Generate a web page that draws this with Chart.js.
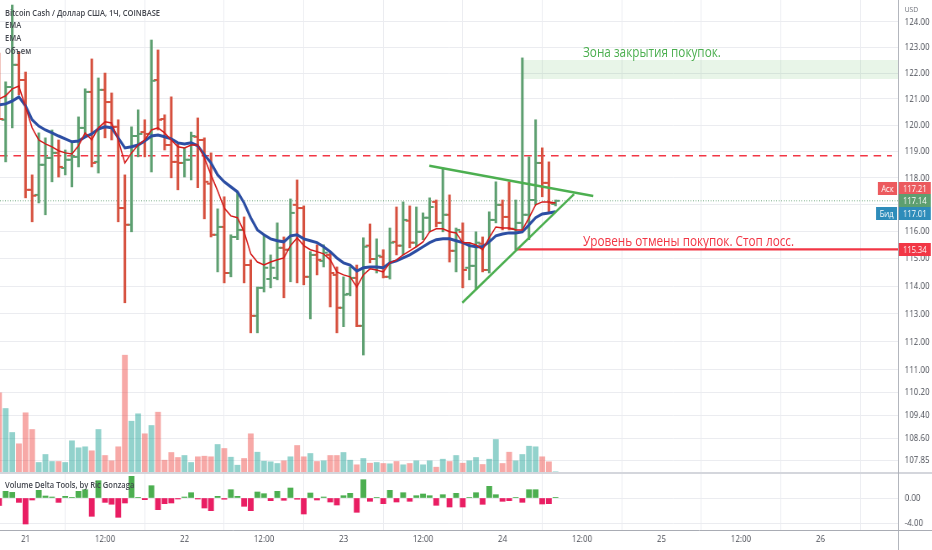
<!DOCTYPE html>
<html>
<head>
<meta charset="utf-8">
<script src="https://cdn.jsdelivr.net/npm/chart.js@4.4.1/dist/chart.umd.min.js"></script>
<style>
  html, body { margin: 0; padding: 0; background: #fff; }
  #wrap { position: relative; width: 932px; height: 550px; overflow: hidden; }
  /* the reference screenshot is horizontally squeezed, so draw wide and squeeze */
  #squeeze { position: absolute; left: 0; top: 0; width: 1110px; height: 550px; transform: scaleX(0.84); transform-origin: 0 0; }
  canvas { display: block; }
  .txt { position: absolute; white-space: nowrap; font-family: "Open Sans", sans-serif; }
  .legend { left: 6px; top: 6.5px; font-size: 9px; line-height: 12.8px; font-weight: 600; color: #44474f; }
  .note { font-size: 14px; line-height: 19px; }
</style>
</head>
<body>
<div id="wrap">
  <div id="squeeze">
    <canvas id="chart" width="1110" height="550"></canvas>
    <div class="txt legend">Bitcoin Cash / Доллар США, 1Ч, COINBASE<br>EMA<br>EMA<br>Объем</div>
    <div class="txt legend" style="top:479px">Volume Delta Tools, by Ric Gonzaga</div>
    <div class="txt" style="left:1077px;top:4px;font-size:8px;line-height:10px;color:#6d7079">USD</div>
    <div class="txt note" style="left:694px;top:41.7px;color:#4caf50">Зона закрытия покупок.</div>
    <div class="txt note" style="left:694px;top:230.7px;color:#f23645">Уровень отмены покупок. Стоп лосс.</div>
  </div>
</div>
<script>
// hours since 21st 00:00, one bar per hour
const hours = [-4, -3, -2, -1, 0, 1, 2, 3, 4, 5, 6, 7, 8, 9, 10, 11, 12, 13, 14, 15, 16, 17, 18, 19, 20,
  21, 22, 23, 24, 25, 26, 27, 28, 29, 30, 31, 32, 33, 34, 35, 36, 37, 38, 39, 40, 41, 42, 43, 44, 45,
  46, 47, 48, 49, 50, 51, 52, 53, 54, 55, 56, 57, 58, 59, 60, 61, 62, 63, 64, 65, 66, 67, 68, 69, 70,
  71, 72, 73, 74, 75, 76, 77, 78, 79, 80];

const opens = [122.51, 120.20, 121.46, 122.32, 121.73, 117.55, 117.36, 118.49, 118.75, 118.94, 118.37,
  118.68, 118.79, 119.89, 121.27, 118.60, 121.35, 120.88, 119.93, 116.87, 116.25, 119.58, 119.73, 119.66,
  121.73, 120.23, 119.24, 118.60, 118.56, 118.68, 119.55, 119.43, 117.78, 115.88, 116.17, 114.48, 115.80,
  116.06, 114.77, 112.93, 113.94, 114.26, 114.30, 115.40, 115.33, 116.99, 116.87, 114.34, 115.14, 114.92,
  115.14, 114.41, 113.22, 113.72, 114.30, 112.57, 115.48, 114.99, 115.07, 114.34, 115.62, 115.48, 116.40,
  115.59, 115.99, 116.51, 117.10, 116.32, 116.62, 115.29, 115.99, 114.67, 114.74, 115.55, 114.59, 116.43,
  116.99, 116.54, 116.10, 116.32, 116.62, 117.17, 118.56, 117.81, 117.02];

const highs = [122.78, 121.66, 124.67, 122.82, 122.04, 118.11, 119.70, 119.51, 119.81, 119.43, 119.05,
  119.36, 120.31, 121.39, 122.55, 121.81, 122.00, 121.23, 120.20, 118.11, 119.93, 120.58, 120.20, 123.29,
  122.90, 120.39, 121.08, 119.32, 119.13, 119.73, 120.27, 119.51, 118.94, 116.84, 117.29, 115.88, 117.47,
  116.54, 114.96, 113.97, 115.88, 115.14, 116.32, 115.80, 117.21, 117.92, 116.95, 115.26, 115.51, 115.51,
  115.22, 114.70, 114.34, 114.70, 114.77, 115.77, 116.28, 115.73, 115.33, 116.13, 116.91, 117.10, 116.95,
  116.91, 116.69, 117.25, 117.17, 118.37, 117.36, 116.13, 116.32, 115.59, 115.99, 115.80, 116.73, 117.85,
  117.17, 117.85, 117.17, 122.59, 118.79, 120.20, 119.13, 118.60, 117.17];

const lows = [120.20, 118.60, 119.89, 121.16, 117.25, 116.36, 117.06, 116.62, 117.85, 118.03, 118.11,
  117.66, 118.41, 119.55, 118.41, 118.18, 119.51, 119.43, 116.36, 113.40, 115.99, 118.79, 118.79, 118.22,
  119.81, 119.05, 118.00, 117.55, 118.03, 117.92, 117.63, 116.47, 115.80, 114.52, 114.12, 114.34, 115.70,
  114.12, 112.32, 112.32, 113.79, 113.94, 114.23, 113.58, 114.16, 114.12, 114.05, 112.82, 114.41, 114.70,
  113.25, 112.32, 112.54, 113.65, 112.54, 111.53, 114.85, 114.48, 114.30, 114.26, 115.14, 115.14, 115.40,
  115.44, 115.70, 115.99, 116.17, 115.99, 114.88, 114.52, 113.94, 114.23, 113.87, 114.52, 114.48, 116.32,
  116.06, 116.06, 115.33, 116.06, 115.70, 116.99, 117.29, 116.69, 116.95];

const closes = [120.23, 121.46, 122.32, 121.73, 117.55, 117.33, 118.49, 118.75, 118.94, 118.41, 118.68,
  118.79, 119.89, 121.27, 118.56, 121.35, 120.88, 119.93, 116.87, 116.25, 119.58, 119.66, 119.66, 121.70,
  120.20, 119.24, 118.60, 118.56, 118.68, 119.58, 119.43, 117.85, 115.88, 116.17, 114.48, 115.80, 116.06,
  114.77, 112.93, 113.94, 114.67, 114.67, 115.40, 115.33, 116.69, 116.87, 114.34, 115.14, 114.96, 115.22,
  114.48, 113.22, 113.69, 114.30, 112.57, 115.44, 114.99, 115.11, 114.34, 115.59, 115.48, 116.43, 115.59,
  115.99, 116.51, 116.91, 116.32, 116.62, 115.29, 116.06, 114.59, 114.74, 115.59, 114.59, 116.43, 116.99,
  116.54, 116.10, 116.32, 116.62, 117.17, 118.56, 117.81, 117.06, 117.14];

const emaFast = [121.00, 121.12, 121.39, 121.50, 120.69, 119.89, 119.43, 119.28, 119.17, 119.02, 118.94,
  118.90, 119.21, 119.70, 119.43, 119.89, 120.12, 120.08, 119.43, 118.56, 118.94, 119.24, 119.43, 119.81,
  119.89, 119.70, 119.43, 119.17, 119.13, 119.24, 119.24, 118.75, 118.11, 117.51, 116.87, 116.58, 116.51,
  115.99, 115.18, 114.88, 114.77, 114.88, 114.96, 115.03, 115.48, 115.77, 115.48, 115.33, 115.26, 115.18,
  114.96, 114.52, 114.41, 114.34, 113.97, 114.41, 114.63, 114.59, 114.52, 114.85, 114.96, 115.14, 115.29,
  115.44, 115.62, 115.99, 116.10, 116.10, 115.99, 115.95, 115.59, 115.59, 115.51, 115.33, 115.77, 116.17,
  116.13, 116.13, 116.06, 116.06, 116.51, 116.99, 117.10, 117.10, 117.06];

const emaSlow = [120.77, 120.81, 120.92, 121.08, 120.73, 120.20, 119.96, 119.81, 119.70, 119.58, 119.47,
  119.36, 119.39, 119.55, 119.66, 119.85, 119.93, 119.89, 119.51, 119.13, 119.17, 119.24, 119.39, 119.58,
  119.62, 119.55, 119.47, 119.32, 119.28, 119.32, 119.21, 118.87, 118.56, 118.11, 117.85, 117.66, 117.47,
  117.06, 116.51, 116.06, 115.88, 115.73, 115.66, 115.62, 115.84, 115.88, 115.73, 115.66, 115.59, 115.44,
  115.26, 115.03, 114.85, 114.77, 114.55, 114.67, 114.70, 114.70, 114.67, 114.85, 114.92, 115.03, 115.14,
  115.29, 115.44, 115.59, 115.70, 115.73, 115.73, 115.66, 115.59, 115.48, 115.44, 115.44, 115.62, 115.84,
  115.91, 115.95, 115.95, 115.99, 116.25, 116.51, 116.65, 116.69, 116.73];

const volumes = [797, 640, 400, 287, 597, 430, 100, 180, 110, 110, 100, 317, 247, 257, 217, 430, 170, 117,
  257, 1173, 513, 587, 387, 470, 603, 123, 200, 150, 170, 100, 157, 163, 157, 280, 240, 153, 73, 140, 387,
  203, 113, 107, 90, 117, 157, 270, 157, 190, 110, 117, 170, 170, 200, 123, 77, 140, 93, 100, 90, 87, 110,
  77, 90, 117, 77, 117, 53, 133, 110, 170, 93, 117, 150, 80, 133, 330, 90, 203, 117, 180, 263, 257, 157,
  107, 7];

const deltas = [-1.2, 1.07, 0.9, -0.7, -4.16, -0.32, 1.23, 0.32, 0.16, -0.7, 0.27, 0.05, 1.07, 1.33, -2.93,
  2.77, -0.7, -1.0, -3.09, -0.8, 3.47, 0.05, -0.27, 1.97, -1.87, -0.91, -0.8, -0.16, 0.16, 0.85, -0.16,
  -1.6, -2.03, 0.27, -0.2, 1.33, 0.27, -1.33, -2.03, 0.96, 0.69, -0.43, 1.07, -0.37, 1.6, -0.2, -2.56, 0.8,
  -0.32, 0.16, -0.64, -1.12, 0.37, 0.75, -2.29, 2.93, -0.53, 0.1, -0.91, 1.23, -0.64, 0.85, -0.53, 0.37,
  0.64, 0.37, -1.17, 0.53, -1.44, 0.75, -1.44, 0.1, 0.85, -1.01, 1.87, 0.53, -0.53, -0.43, 0.1, -0.69,
  1.33, 1.33, -0.96, -0.91, 0.05];

const timeTicks = [0, 12, 24, 36, 48, 60, 72, 84, 96, 108, 120];
const timeLabels = ["21", "12:00", "22", "12:00", "23", "12:00", "24", "12:00", "25", "12:00", "26"];
const priceTicks = [124, 123, 122, 121, 120, 119, 118, 117, 116, 115, 114, 113, 112, 111, 110.2, 109.4, 108.6, 107.85];
const deltaTicks = [0, -4];

// drawings
const levelHours = [-3.85, 130.8];
const resistancePrice = 118.83;
const priceLineHours = [-3.85, 131.7];
const stopHours = [74, 131.7];
const stopPrice = 115.34;
const zoneHours = [75, 131.7];
const zoneTop = 122.51;
const zoneBottom = 121.77;
const upperTrendHours = [60.95, 85.7];
const upperTrendPrices = [118.45, 117.32];
const lowerTrendHours = [65.93, 82.8];
const lowerTrendPrices = [113.40, 117.39];
const askPrice = 117.21;
const bidPrice = 117.01;

const upColor = "#5d9f70";
const downColor = "#d6503e";
const gridColor = "#ebecf0";
const axisText = "#474a53";

const isUp = closes.map((c, i) => c >= opens[i]);
const barColors = isUp.map((u) => (u ? upColor : downColor));
const volColors = isUp.map((u) => (u ? "rgba(38,166,154,0.5)" : "rgba(239,83,80,0.5)"));
const deltaColors = deltas.map((d) => (d >= 0 ? "#4caf50" : "#e91e63"));

const pts = (xs, ys) => xs.map((x, i) => ({ x: x, y: ys[i] }));
const flat = (xs, v) => xs.map((x) => ({ x: x, y: v }));
const lastClose = closes[closes.length - 1];

Chart.defaults.font.family = '"Open Sans", sans-serif';

// pane separators and right axis price tags
const framePlugin = {
    id: "frame",
    afterDraw(chart) {
        const ctx = chart.ctx;
        const a = chart.chartArea;
        const yp = chart.scales.y;
        ctx.save();
        ctx.lineWidth = 2;
        ctx.strokeStyle = "#d4d6dc";
        ctx.beginPath();
        ctx.moveTo(0, yp.bottom);
        ctx.lineTo(chart.width, yp.bottom);
        ctx.stroke();
        ctx.lineWidth = 1;
        ctx.strokeStyle = "#a9acb4";
        ctx.beginPath();
        ctx.moveTo(0, a.bottom + 0.5);
        ctx.lineTo(chart.width, a.bottom + 0.5);
        ctx.moveTo(a.right + 0.5, 0);
        ctx.lineTo(a.right + 0.5, chart.height);
        ctx.stroke();

        function tag(y, text, bg, x, w) {
            ctx.fillStyle = bg;
            ctx.fillRect(x, Math.round(y - 6.5), w, 13);
            ctx.fillStyle = "#fff";
            ctx.font = '9px "Open Sans", sans-serif';
            ctx.textBaseline = "middle";
            ctx.textAlign = "center";
            ctx.fillText(text, x + w / 2, Math.round(y - 6.5) + 7);
        }
        const yLast = yp.getPixelForValue(lastClose);
        const px = a.right + 1;
        tag(yLast - 12.5, "Аск", "#ec5a5e", a.right - 24, 23);
        tag(yLast - 12.5, askPrice.toFixed(2), "#ec5a5e", px, 38);
        tag(yLast, lastClose.toFixed(2), upColor, px, 38);
        tag(yLast + 13, "Бид", "#2e8cba", a.right - 26, 25);
        tag(yLast + 13, bidPrice.toFixed(2), "#2e8cba", px, 38);
        tag(yp.getPixelForValue(stopPrice), stopPrice.toFixed(2), "#f23645", px, 38);
        ctx.restore();
    },
};

function noPad(scale) {
    scale.paddingTop = 0;
    scale.paddingBottom = 0;
    scale.paddingLeft = 0;
    scale.paddingRight = 0;
}

new Chart(document.getElementById("chart"), {
    type: "bar",
    data: {
        datasets: [
            {
                type: "line", data: flat(zoneHours, zoneTop), yAxisID: "y",
                borderWidth: 0, pointRadius: 0, fill: "+1",
                backgroundColor: "rgba(76,175,80,0.13)", order: 30,
            },
            {
                type: "line", data: flat(zoneHours, zoneBottom), yAxisID: "y",
                borderWidth: 0, pointRadius: 0, fill: false, order: 31,
            },
            {
                type: "bar", data: pts(hours, volumes), yAxisID: "yVol",
                backgroundColor: volColors, barThickness: 6.2, grouped: false, order: 25,
            },
            {
                type: "line", data: flat(levelHours, resistancePrice), yAxisID: "y",
                borderColor: "#f23645", borderWidth: 1.6, borderDash: [9, 7], pointRadius: 0, order: 20,
            },
            {
                type: "line", data: flat(priceLineHours, lastClose), yAxisID: "y",
                borderColor: "rgba(93,159,112,0.9)", borderWidth: 1, borderDash: [1, 2], pointRadius: 0, order: 19,
            },
            {
                type: "bar", data: hours.map((h, i) => ({ x: h, y: [lows[i], highs[i]] })), yAxisID: "y",
                backgroundColor: barColors, barThickness: 2.4, grouped: false, order: 12,
            },
            {
                type: "line", data: pts(hours.map((h) => h - 0.38), opens), yAxisID: "y",
                showLine: false, pointStyle: "line", pointRadius: 2, pointBorderWidth: 2,
                pointBorderColor: barColors, order: 11,
            },
            {
                type: "line", data: pts(hours.map((h) => h + 0.38), closes), yAxisID: "y",
                showLine: false, pointStyle: "line", pointRadius: 2, pointBorderWidth: 2,
                pointBorderColor: barColors, order: 10,
            },
            {
                type: "line", data: pts(hours, emaSlow), yAxisID: "y",
                borderColor: "#2c4ea3", borderWidth: 3, pointRadius: 0, tension: 0, order: 6,
            },
            {
                type: "line", data: pts(hours, emaFast), yAxisID: "y",
                borderColor: "#d41a1a", borderWidth: 1.5, pointRadius: 0, tension: 0, order: 5,
            },
            {
                type: "line", data: flat(stopHours, stopPrice), yAxisID: "y",
                borderColor: "#f23645", borderWidth: 2.2, pointRadius: 0, order: 4,
            },
            {
                type: "line", data: pts(upperTrendHours, upperTrendPrices), yAxisID: "y",
                borderColor: "#4caf50", borderWidth: 2.5, pointRadius: 0, order: 3,
            },
            {
                type: "line", data: pts(lowerTrendHours, lowerTrendPrices), yAxisID: "y",
                borderColor: "#4caf50", borderWidth: 2.5, pointRadius: 0, order: 2,
            },
            {
                type: "bar", data: pts(hours, deltas), yAxisID: "yDelta",
                backgroundColor: deltaColors, barThickness: 6.2, grouped: false, order: 1,
            },
        ],
    },
    options: {
        responsive: false,
        animation: false,
        events: [],
        layout: { padding: 0, autoPadding: false },
        plugins: { legend: { display: false }, tooltip: { enabled: false } },
        scales: {
            x: {
                type: "linear", position: "bottom", min: -3.849, max: 131.7, offset: false,
                grid: { color: gridColor, drawTicks: false },
                border: { display: false },
                ticks: {
                    autoSkip: false, maxRotation: 0, padding: 4, color: axisText, font: { size: 9.5 },
                    callback: (v) => timeLabels[timeTicks.indexOf(v)],
                },
                afterBuildTicks: (s) => { s.ticks = timeTicks.map((v) => ({ value: v })); },
                afterFit: (s) => { noPad(s); s.height = 20; },
            },
            yVol: {
                type: "linear", position: "right", display: false, min: -575, max: 4725,
            },
            y: {
                type: "logarithmic", position: "right", min: 107.42, max: 124.87,
                stack: "panes", stackWeight: 473,
                grid: { color: gridColor, drawTicks: false },
                border: { display: false },
                ticks: {
                    autoSkip: false, padding: 8, color: axisText, font: { size: 9.5 },
                    callback: (v) => Number(v).toFixed(2),
                },
                afterBuildTicks: (s) => { s.ticks = priceTicks.map((v) => ({ value: v })); },
                afterFit: (s) => { noPad(s); s.width = 41; },
            },
            yDelta: {
                type: "linear", position: "right", min: -5.12, max: 4.0,
                stack: "panes", stackWeight: 57,
                grid: { color: gridColor, drawTicks: false },
                border: { display: false },
                ticks: {
                    autoSkip: false, padding: 8, color: axisText, font: { size: 9.5 },
                    callback: (v) => Number(v).toFixed(2),
                },
                afterBuildTicks: (s) => { s.ticks = deltaTicks.map((v) => ({ value: v })); },
                afterFit: (s) => { noPad(s); s.width = 41; },
            },
        },
    },
    plugins: [framePlugin],
});
</script>
</body>
</html>
